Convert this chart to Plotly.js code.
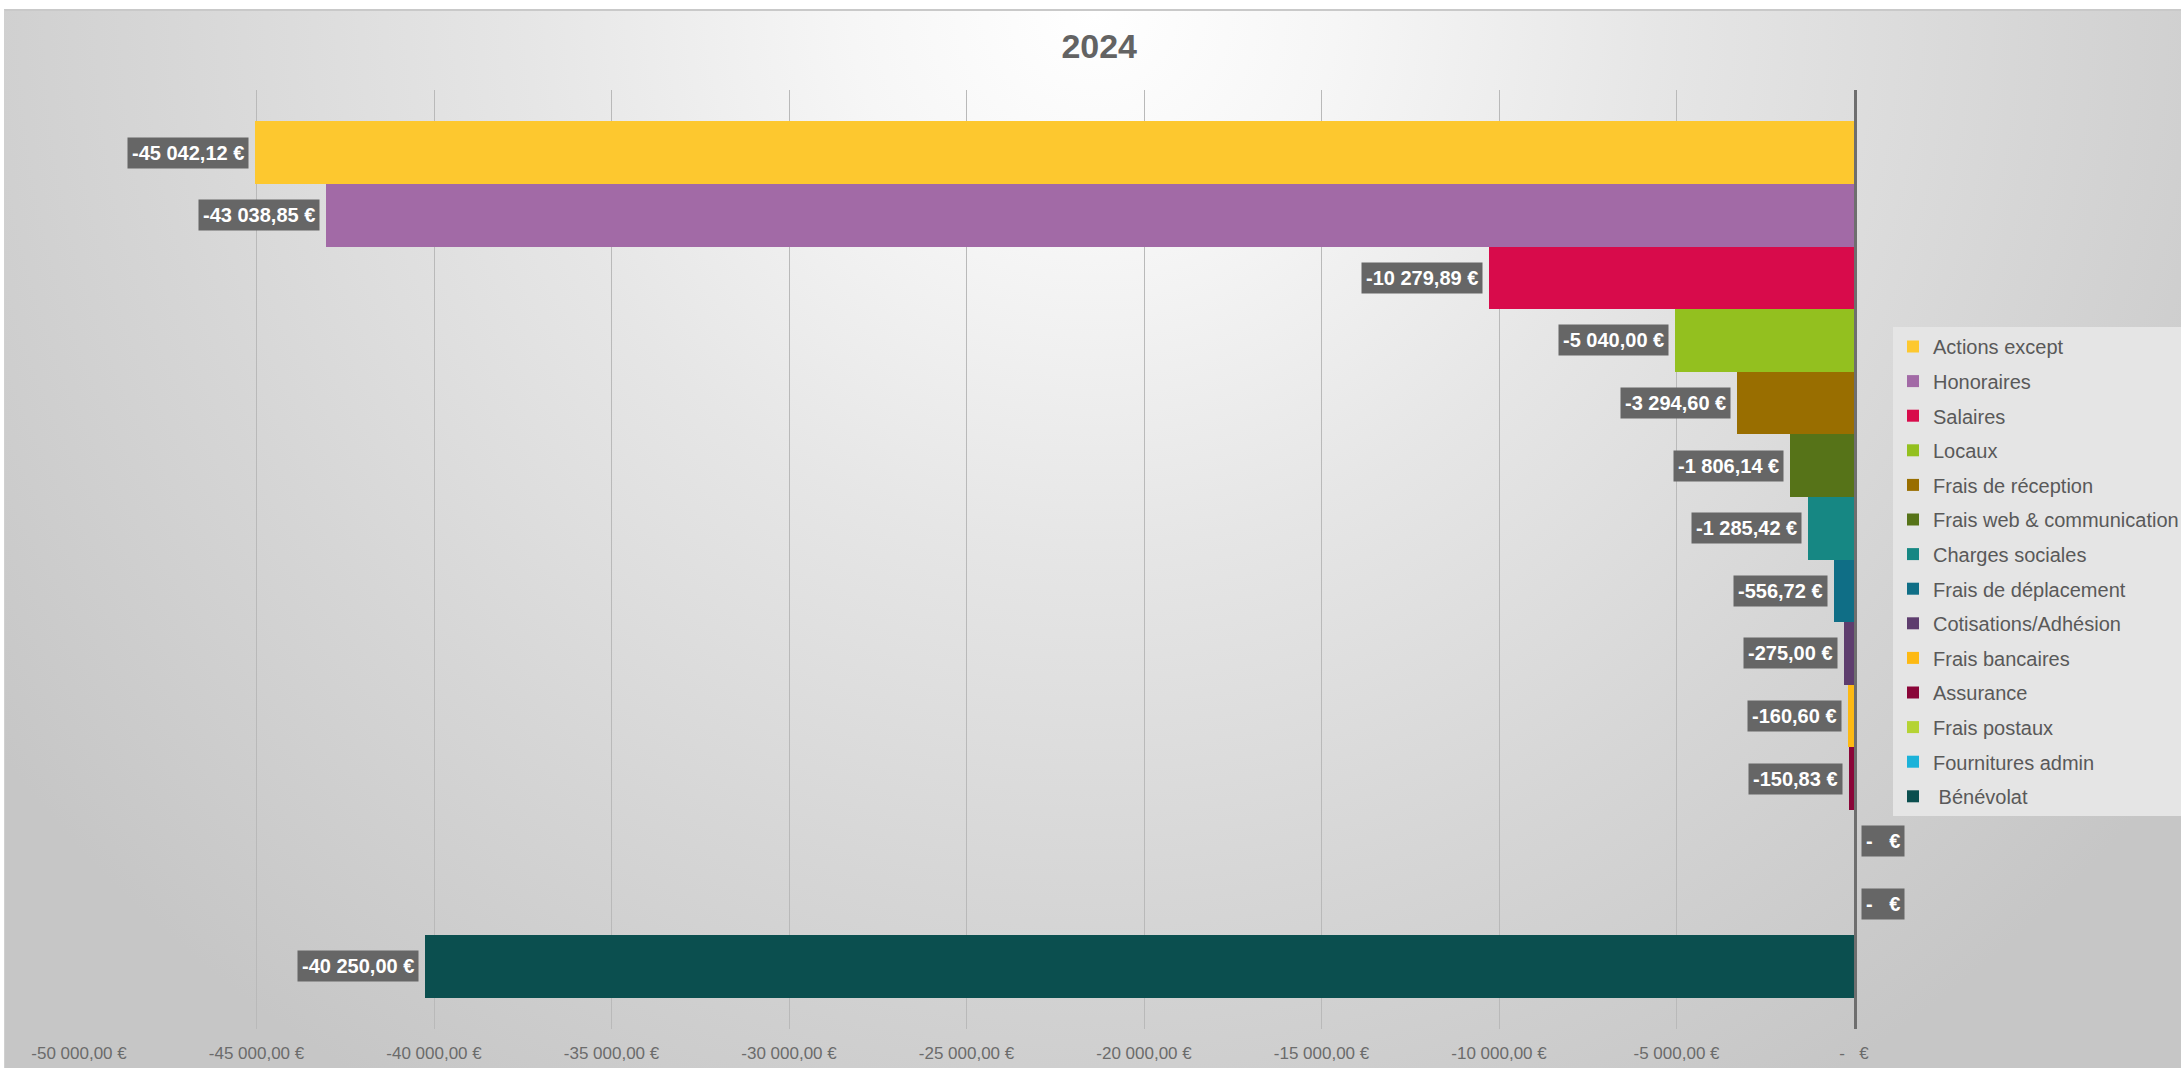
<!DOCTYPE html>
<html>
<head>
<meta charset="utf-8">
<script src="https://cdn.plot.ly/plotly-3.0.1.min.js"></script>
<style>
  html, body { margin: 0; padding: 0; width: 2181px; height: 1068px; overflow: hidden; background: #ffffff; }
  #bg {
    position: absolute; left: 4px; top: 9px; width: 2177px; height: 1059px;
    border-top: 2px solid #c9c9c9; border-left: 1px solid #d0d0d0;
    background: radial-gradient(ellipse 62% 120% at 50% 0%, #ffffff 0%, #f6f6f6 18%, #e6e6e6 42%, #d6d6d6 70%, #c6c6c6 100%);
  }
  #chart { position: absolute; left: 0; top: 0; width: 2181px; height: 1068px; }
</style>
</head>
<body>
<div id="bg"></div>
<div id="chart"></div>
<script>
// ---- Data ----
const categories = [
  "Actions except", "Honoraires", "Salaires", "Locaux", "Frais de réception",
  "Frais web & communication", "Charges sociales", "Frais de déplacement",
  "Cotisations/Adhésion", "Frais bancaires", "Assurance", "Frais postaux",
  "Fournitures admin", " Bénévolat"
];
const values = [
  -45042.12, -43038.85, -10279.89, -5040.00, -3294.60,
  -1806.14, -1285.42, -556.72,
  -275.00, -160.60, -150.83, 0,
  0, -40250.00
];
const colors = [
  "#FDC82F", "#A26AA6", "#D80B4B", "#93C01F", "#996E00",
  "#567318", "#168783", "#0F6E86",
  "#5E3D6E", "#FDB913", "#8A0538", "#B5D334",
  "#1BB2D9", "#0B4F4F"
];
const tickValues = [-50000, -45000, -40000, -35000, -30000, -25000, -20000, -15000, -10000, -5000, 0];
const chartTitle = "2024";

// ---- Formatting (French accounting style) ----
function fmtEuro(v) {
  if (v === 0) return "-   €";
  const neg = v < 0;
  const a = Math.abs(v);
  const parts = a.toFixed(2).split(".");
  const intPart = parts[0].replace(/\B(?=(\d{3})+(?!\d))/g, " ");
  return (neg ? "-" : "") + intPart + "," + parts[1] + " €";
}

// ---- Traces ----
const traces = categories.map((c, i) => ({
  type: "bar",
  orientation: "h",
  name: c,
  x: [values[i]],
  y: [c],
  marker: { color: colors[i], line: { width: 0 } },
  legendgroup: "g" + i,
  hoverinfo: "skip"
}));

// ---- Data labels ----
const annotations = categories.map((c, i) => {
  const v = values[i];
  return {
    x: v, y: c, xref: "x", yref: "y",
    text: "<b>" + fmtEuro(v) + "</b>",
    showarrow: false,
    xanchor: v === 0 ? "left" : "right",
    yanchor: "middle",
    xshift: v === 0 ? 7 : -6,
    bgcolor: "#666666",
    borderpad: 4,
    font: { family: "Liberation Sans, Arial, sans-serif", size: 20, color: "#ffffff" }
  };
});

const layout = {
  width: 2181, height: 1068,
  paper_bgcolor: "rgba(0,0,0,0)",
  plot_bgcolor: "rgba(0,0,0,0)",
  margin: { l: 79, r: 327, t: 90, b: 39, pad: 0 },
  title: {
    text: "<b>" + chartTitle + "</b>",
    x: 0.504, xref: "container", xanchor: "center",
    y: 1 - 46 / 1068, yref: "container", yanchor: "middle",
    font: { family: "Liberation Sans, Arial, sans-serif", size: 34, color: "#636363" }
  },
  barmode: "overlay",
  bargap: 0,
  xaxis: {
    range: [-50000, 0],
    tickvals: tickValues,
    ticktext: tickValues.map(fmtEuro),
    showgrid: true, gridcolor: "#b9b9b9", gridwidth: 1,
    zeroline: false, showline: false,
    ticks: "", ticklabelstandoff: 12,
    tickfont: { family: "Liberation Sans, Arial, sans-serif", size: 17, color: "#6b6b6b" },
    fixedrange: true
  },
  yaxis: {
    type: "category",
    categoryorder: "array", categoryarray: categories,
    range: [categories.length, -1],
    showticklabels: false, showgrid: false, zeroline: false,
    showline: true, side: "right", linecolor: "#6e6e6e", linewidth: 2.5,
    ticks: "",
    fixedrange: true
  },
  showlegend: true,
  legend: {
    x: 1893 / 2181, xref: "container", xanchor: "left",
    y: 1 - 327 / 1068, yref: "container", yanchor: "top",
    bgcolor: "#e5e5e5",
    borderwidth: 0,
    traceorder: "grouped",
    tracegroupgap: 5.6,
    itemclick: false, itemdoubleclick: false,
    font: { family: "Liberation Sans, Arial, sans-serif", size: 20, color: "#595959" }
  },
  annotations: annotations
};

Plotly.newPlot("chart", traces, layout, { staticPlot: true, displayModeBar: false });
</script>
</body>
</html>
